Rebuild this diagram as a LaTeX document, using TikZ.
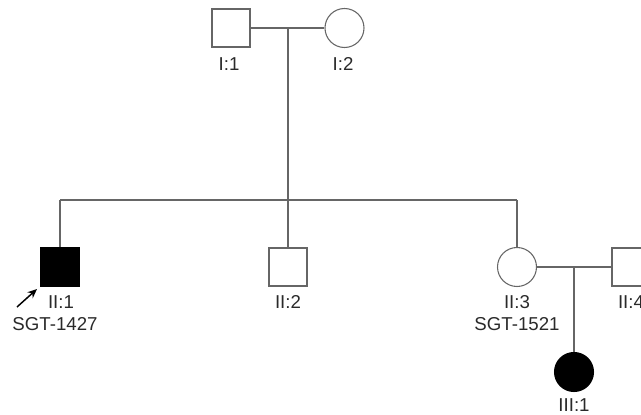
\documentclass[tikz,border=0pt]{standalone}
\usepackage{fontspec}
\setmainfont{Liberation Sans}
\usetikzlibrary{arrows.meta}
\definecolor{ln}{HTML}{666666}
\definecolor{tx}{HTML}{2A2A2A}
\tikzset{
  male/.style={draw=ln, line width=0.8pt, rectangle, minimum size=28.5pt, inner sep=0pt, fill=white},
  female/.style={draw=ln, line width=0.8pt, circle, minimum size=29.25pt, inner sep=0pt, fill=white},
  affected/.style={fill=black, draw=black},
  lab/.style={text=tx, font=\fontsize{14}{16}\selectfont, inner sep=0pt},
  link/.style={draw=ln, line width=0.8pt}
}
\begin{document}
\begin{tikzpicture}[x=0.75pt,y=-0.75pt]
\useasboundingbox (0,0) rectangle (641,414);
\begin{scope}
\clip (0,0) rectangle (641,414);
% generation I
\node[male] (I1) at (231,28) {};
\node[female] (I2) at (344.5,28) {};
\coordinate (m1) at (288,28);
\coordinate (s1) at (288,200);
\draw[link] (I1.east) -- (I2.west);
\draw[link] (m1) -- (s1);
% generation II
\node[male,affected] (II1) at (60,267) {};
\node[male] (II2) at (288,267) {};
\node[female] (II3) at (517,267) {};
\node[male] (II4) at (631,267) {};
\coordinate (sL) at (60,200);
\coordinate (sR) at (517,200);
\draw[link] (sL) -- (sR);
\draw[link] (sL) -- (II1.north);
\draw[link] (s1) -- (II2.north);
\draw[link] (sR) -- (II3.north);
\draw[link] (II3.east) -- (II4.west);
\coordinate (m2) at (574,267);
% generation III
\node[female,affected] (III1) at (574,372) {};
\draw[link] (m2) -- (III1.north);
% labels
\node[lab] (lI1) at (229,64) {I:1};
\node[lab] (lI2) at (343,64) {I:2};
\node[lab] (lII1) at (61,302) {II:1};
\node[lab] (sII1) at (55,324) {SGT-1427};
\node[lab] (lII2) at (288,302) {II:2};
\node[lab] (lII3) at (517,302) {II:3};
\node[lab] (sII3) at (517,324) {SGT-1521};
\node[lab] (lII4) at (631,302) {II:4};
\node[lab] (lIII1) at (574,405) {III:1};
% proband arrow
\coordinate (pa) at (17,307);
\coordinate (pb) at (37,289);
\draw[line width=1.1pt, -{Stealth[length=7pt,width=6pt]}, black] (pa) -- (pb);
\end{scope}
\end{tikzpicture}
\end{document}
